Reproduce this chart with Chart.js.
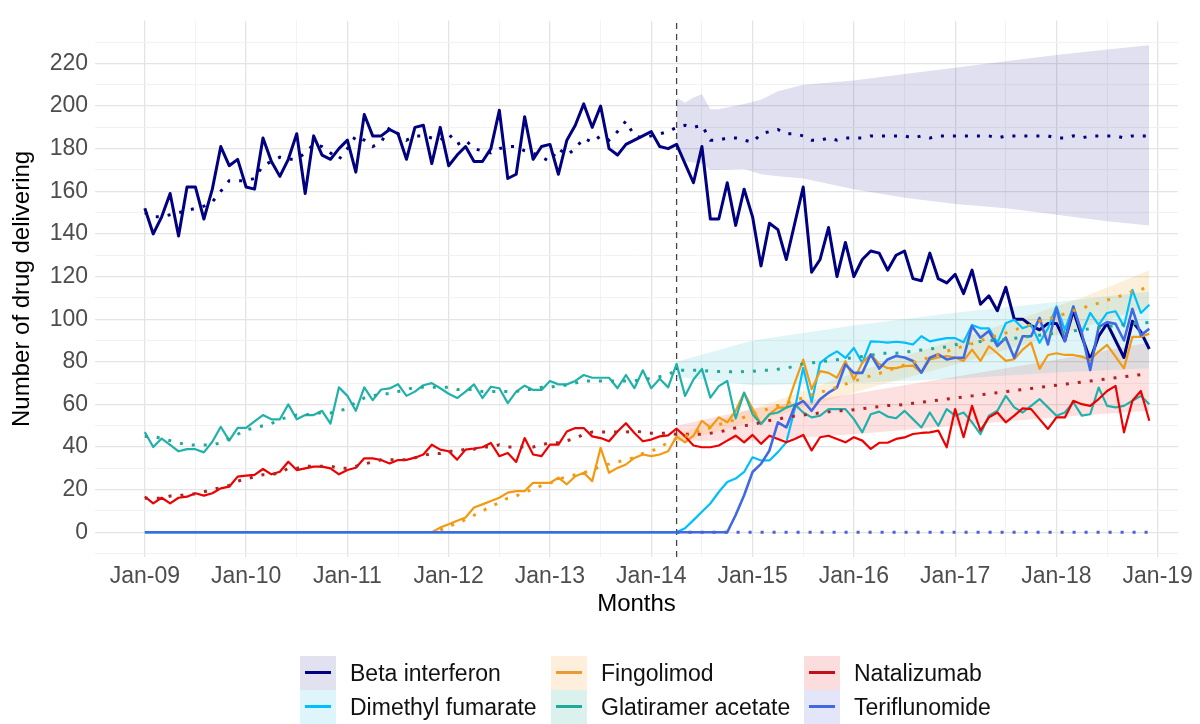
<!DOCTYPE html>
<html>
<head>
<meta charset="utf-8">
<script src="https://cdn.jsdelivr.net/npm/chart.js@4.4.1/dist/chart.umd.min.js"></script>
<style>
  body { margin: 0; background: #fff; font-family: "Liberation Sans", Arial, sans-serif; }
  #wrap { position: relative; width: 1200px; height: 724px; }
  #legend { position: absolute; left: 0; top: 0; width: 1200px; height: 724px; pointer-events: none; }
  .item { position: absolute; height: 34px; display: flex; align-items: center; font-size: 23px; color: #111; white-space: nowrap; }
  .key { position: relative; width: 36px; height: 34px; margin-right: 14px; }
  .key span { position: absolute; left: 5px; right: 5px; top: 15px; height: 3px; }
</style>
</head>
<body>
<div id="wrap">
  <canvas id="chart" width="1200" height="724"></canvas>
  <div id="legend"></div>
</div>
<script>
// month index 0 = Jan-09 ... 119 = Dec-18
const xTickLabels = ['Jan-09', 'Jan-10', 'Jan-11', 'Jan-12', 'Jan-13', 'Jan-14',
  'Jan-15', 'Jan-16', 'Jan-17', 'Jan-18', 'Jan-19'];
const xGridMonths = [0, 6, 12, 18, 24, 30, 36, 42, 48, 54, 60, 66, 72, 78, 84, 90, 96, 102, 108, 114, 120];
const yGridValues = [-10, 0, 10, 20, 30, 40, 50, 60, 70, 80, 90, 100, 110, 120, 130, 140, 150, 160, 170, 180, 190, 200, 210, 220, 230];
const yTickLabels = ['0', '20', '40', '60', '80', '100', '120', '140', '160', '180', '200', '220'];
const interventionMonth = 63;

const betaActual = [
  152, 140, 148, 159, 139, 162, 162, 147, 161, 181, 172, 175,
  162, 161, 185, 174, 167, 175, 187, 159, 186, 177, 175, 180,
  184, 169, 196, 186, 186, 189, 187, 175, 190, 191, 173, 190,
  172, 177, 181, 174, 174, 180, 198, 166, 168, 195, 175, 181,
  182, 168, 184, 191, 201, 190, 200, 180, 177, 182, 184, 186,
  188, 181, 180, 182, 173, 164, 181, 147, 147, 164, 144, 161,
  148, 125, 145, 142, 128, 145, 162, 122, 128, 143, 120, 136,
  120, 128, 132, 131, 123, 130, 132, 119, 118, 131, 119, 117,
  121, 112, 123, 107, 111, 104, 115, 100, 100, 97, 95, 98,
  98, 90, 104, 92, 81, 92, 98, 90, 82, 99, 94, 86];
const betaFit = [
  150, 148, 148, 149, 150, 151, 152, 153, 155, 160, 165, 165,
  165, 166, 172, 174, 176, 175, 175, 178, 182, 181, 178, 175,
  180, 186, 184, 181, 183, 190, 187, 184, 186, 186, 185, 184,
  187, 182, 184, 180, 179, 178, 180, 181, 181, 179, 178, 176,
  174, 180, 177, 180, 185, 183, 186, 184, 188, 193, 186, 185,
  186, 187, 188, 190, 191, 190, 191, 184, 184, 185, 185, 184,
  183, 187, 188, 189, 187, 187, 186, 184, 184, 185, 184, 185,
  185, 185, 186, 186, 186, 186, 186, 185, 186, 185, 186, 186,
  186, 186, 186, 186, 186, 185, 186, 186, 186, 186, 186, 186,
  185, 185, 186, 185, 186, 186, 186, 186, 185, 186, 186, 186];

const dmfActual = [
  0, 0, 0, 0, 0, 0, 0, 0, 0, 0, 0, 0,
  0, 0, 0, 0, 0, 0, 0, 0, 0, 0, 0, 0,
  0, 0, 0, 0, 0, 0, 0, 0, 0, 0, 0, 0,
  0, 0, 0, 0, 0, 0, 0, 0, 0, 0, 0, 0,
  0, 0, 0, 0, 0, 0, 0, 0, 0, 0, 0, 0,
  0, 0, 0, 0, 1.9, 5.7, 9.6, 13.5, 18.9, 23.6, 25.2, 28.3,
  35.2, 33.7, 33.7, 37.6, 42.2, 57.8, 77.2, 60.9, 79.5, 82.6, 84.9, 81.8,
  86.5, 79.5, 89.6, 89.4, 89, 89.4, 89, 88.1, 92, 89.6, 90.4, 91.1,
  91.1, 89.2, 97.3, 95.7, 95.7, 88.9, 98.1, 99.7, 95.7, 97.3, 88.9, 95.7,
  106, 95, 106, 93.6, 102.9, 97.3, 102.9, 103.7, 96.6, 113.8, 102.9, 106.8];

const fingActual = [
  null, null, null, null, null, null, null, null, null, null, null, null,
  null, null, null, null, null, null, null, null, null, null, null, null,
  null, null, null, null, null, null, null, null, null, null, 0, 2.2,
  3.8, 5.4, 6.9, 11.6, 13.1, 14.7, 16.2, 18.6, 19.3, 19.3, 23.2, 23.2,
  23.2, 25.6, 22.5, 26.3, 27.9, 24, 39.6, 27.9, 30.2, 31.8, 34.9, 36.5,
  35.7, 36.5, 38, 45, 42.2, 45.3, 52.3, 49.2, 53.9, 51.6, 57, 65.5,
  57.8, 50.8, 55.4, 58.5, 58.5, 70.2, 81, 67.1, 75.6, 74.8, 72.5, 80.3,
  71.7, 79.5, 83.4, 79, 77, 77, 78, 78.2, 74.9, 81.1, 82, 82.7,
  82, 80.4, 85.7, 80.4, 87.3, 84, 80.4, 81.2, 85.7, 89, 76.7, 83.2,
  84, 83.2, 83.2, 82.4, 80.9, 84.8, 87.9, 82.4, 76.9, 91.7, 91.7, 93.2];
const fingFit = [
  null, null, null, null, null, null, null, null, null, null, null, null,
  null, null, null, null, null, null, null, null, null, null, null, null,
  null, null, null, null, null, null, null, null, null, null, null, 1,
  3, 4, 6, 8, 10, 12, 14, 16, 17, 19, 20, 22,
  23, 25, 26, 27, 28, 29, 31, 32, 33, 34, 35, 37,
  38, 40, 42, 44, 45, 46.5, 48, 49, 50.5, 51.5, 53, 54,
  55.5, 57, 58, 59.5, 60.5, 62, 63, 64.5, 65.5, 67, 68, 69.5,
  71, 72, 73.5, 74.5, 76, 77, 78.5, 79.5, 81, 82, 83.5, 85,
  86, 87.5, 88.5, 90, 91, 92.5, 93.5, 95, 96, 97.5, 99, 100,
  101.5, 102.5, 104, 105, 106.5, 107.5, 109, 110, 111.5, 113, 114, 115];

const glatActual = [
  47, 40, 44, 41, 38, 39, 39, 37.5, 42.5, 49.5, 43, 49,
  49, 52, 55, 53, 53, 60, 53, 55, 55, 57, 51, 68,
  64, 57, 68, 62, 67, 67.5, 69.5, 64, 66, 69, 70, 67.6,
  65, 63, 66, 69.4, 63, 68.3, 67.6, 60.6, 66, 68.8, 66.8, 66.8,
  71, 69.4, 69.4, 71, 73.8, 72.5, 72.5, 72.5, 67.6, 73.8, 67.6, 76,
  67.6, 72, 68, 79, 64, 71.7, 76.7, 63.2, 68.6, 71, 53.4, 65.5,
  55.4, 50.8, 55.4, 56.2, 58.5, 60, 56.2, 53.9, 54.7, 57.8, 57.8, 57.8,
  53.1, 46.9, 55.4, 56.6, 54.3, 53.5, 57, 53.1, 49.2, 56.2, 50, 57.8,
  54.7, 56.2, 51.6, 46.1, 54.7, 57, 64, 58.6, 56.2, 59.3, 62.5, 58.6,
  54.7, 56.2, 61, 54.7, 55.4, 67.9, 59.3, 58.6, 59.3, 61.7, 64, 60.1];
const glatFit = [
  45, 45, 44, 43, 42, 41, 41, 41, 41, 42, 44, 46,
  48, 49, 50, 51, 53, 54, 55, 55, 56, 56, 56, 57,
  58, 61, 63, 64, 65, 65, 66, 67, 68, 68, 68, 68,
  68, 67, 67, 67, 66, 66, 66, 66, 66, 67, 67, 68,
  68, 69, 69, 70, 71, 71, 71, 71, 71, 71, 71, 72,
  72, 73, 74, 76, 76, 76, 76, 75.5, 75.5, 75.5, 75, 75.5,
  75.5, 76, 76, 76.5, 77, 78, 79, 79.5, 80, 80.5, 81, 81.5,
  82, 82.5, 83, 84, 84, 84, 84.5, 85, 85.5, 86, 86.5, 87,
  88, 88.5, 89, 89.5, 90, 90, 90.5, 91, 91.5, 92, 92.5, 93,
  93.5, 94, 94.5, 95, 95.5, 96, 96.5, 97, 97.5, 98, 98, 98.5];

const nataActual = [
  16.7, 13.6, 16.2, 13.6, 16.2, 16.7, 18.3, 17.2, 18.3, 20.6, 21.4, 26.1,
  26.6, 26.9, 29.7, 27.2, 28.4, 33.1, 29.2, 30, 30.8, 30.8, 30, 27.2,
  29.2, 30.3, 34.7, 34.7, 33.9, 32.3, 33.9, 34, 35, 36.5, 41.1, 38.8,
  38, 34.1, 38.8, 39.3, 39.9, 41.9, 35.7, 37.2, 33, 44.2, 36.5, 35.7,
  41.1, 41.1, 47.3, 48.9, 48.9, 45, 44.2, 42.7, 47.3, 51.2, 46.6, 42.7,
  43.5, 45, 45.5, 48.6, 45, 40.7, 39.9, 39.9, 40.7, 43, 45.3, 42.2,
  45.7, 41.5, 45.3, 43.8, 42.2, 43.8, 45.7, 38.4, 44.6, 45.3, 43.8, 42.2,
  44.6, 43, 39.1, 42, 42, 43.8, 44.5, 46.1, 46.6, 46.9, 47.7, 39.9,
  57.8, 44.6, 59.3, 47.7, 53.9, 56.2, 51.6, 54.7, 58.1, 57.8, 53.1, 48.5,
  53.9, 53.9, 61.7, 60.1, 59.3, 62.5, 66.3, 68.7, 46.9, 61.7, 66.3, 52.3];
const nataFit = [
  16, 16, 16, 17, 17, 18, 18, 19, 20, 21, 22, 24,
  25, 26, 27, 27, 28, 30, 30, 31, 31, 31, 31, 30,
  30, 31, 32, 33, 34, 34, 34, 34, 35, 36, 37, 37,
  38, 38, 39, 39, 40, 40, 41, 40, 40, 40, 40, 41,
  42, 42, 43, 44, 46, 47, 47, 47, 47, 47, 47.5, 47,
  46.5, 46.5, 46.5, 46, 46, 46, 46, 46.5, 47, 48, 49, 50,
  50.5, 51.5, 52.5, 53, 54, 54.5, 55, 55.5, 56, 56.5, 57, 57,
  57.5, 58, 58.5, 59, 59.5, 59.5, 60, 60.5, 61, 61.5, 62, 62.5,
  63, 63.5, 64, 64.5, 65, 65.5, 66, 66.5, 67, 67.5, 68, 68.5,
  69, 69.5, 70, 70.5, 71, 71.5, 72, 72.5, 73, 73.5, 74, 74];

const teriActual = [
  0, 0, 0, 0, 0, 0, 0, 0, 0, 0, 0, 0,
  0, 0, 0, 0, 0, 0, 0, 0, 0, 0, 0, 0,
  0, 0, 0, 0, 0, 0, 0, 0, 0, 0, 0, 0,
  0, 0, 0, 0, 0, 0, 0, 0, 0, 0, 0, 0,
  0, 0, 0, 0, 0, 0, 0, 0, 0, 0, 0, 0,
  0, 0, 0, 0, 0, 0, 0, 0, 0, 0, 8.1, 17.4,
  28.3, 32.1, 38.4, 51.6, 49.2, 59.3, 61.6, 57, 62.4, 65.5, 67.9, 78.7,
  74.8, 74.8, 83.4, 76.8, 81.1, 82.7, 82, 80.4, 74.9, 81.9, 83.5, 81.1,
  81.9, 81.9, 96.7, 91.3, 94.4, 87.4, 91.3, 81.9, 92, 92, 100.6, 88.1,
  105.2, 89.6, 105.9, 93.6, 76.1, 96.3, 98.6, 97.8, 90, 104.8, 92.4, 95.5];
const teriFit = [
  null, null, null, null, null, null, null, null, null, null, null, null,
  null, null, null, null, null, null, null, null, null, null, null, null,
  null, null, null, null, null, null, null, null, null, null, null, null,
  null, null, null, null, null, null, null, null, null, null, null, null,
  null, null, null, null, null, null, null, null, null, null, null, null,
  null, null, null, 0, 0, 0, 0, 0, 0, 0, 0, 0,
  0, 0, 0, 0, 0, 0, 0, 0, 0, 0, 0, 0,
  0, 0, 0, 0, 0, 0, 0, 0, 0, 0, 0, 0,
  0, 0, 0, 0, 0, 0, 0, 0, 0, 0, 0, 0,
  0, 0, 0, 0, 0, 0, 0, 0, 0, 0, 0, 0];

// forecast intervals
const betaBandMonths = [63, 64, 65, 66, 67, 68, 71, 73, 75, 78, 84, 90, 96, 102, 108, 114, 119];
const betaBandLow = [180, 174, 173.5, 173, 170, 170, 170.5, 168, 167, 166, 161, 157, 154, 152, 149, 146, 144];
const betaBandHigh = [204, 201.5, 204, 205.5, 198.5, 198.5, 201, 203, 207, 210, 212, 215, 218, 221, 224, 226.5, 228.5];
const glatBandMonths = [63, 72, 84, 96, 108, 119];
const glatBandLow = [73, 69, 70, 72, 75, 77];
const glatBandHigh = [80, 90, 97, 103, 108, 113];
const fingBandMonths = [63, 75, 87, 99, 111, 119];
const fingBandLow = [42, 55, 69, 82, 96, 106];
const fingBandHigh = [46, 62, 79, 94, 110, 123];
const nataBandMonths = [63, 72, 84, 96, 108, 119];
const nataBandLow = [43, 43, 46, 50, 54, 57];
const nataBandHigh = [50, 58, 65, 73, 81, 89];

const drugNames = ['Beta interferon', 'Dimethyl fumarate', 'Fingolimod', 'Glatiramer acetate', 'Natalizumab', 'Teriflunomide'];
const lineColors = ['#000080', '#00BFFF', '#F39A12', '#20B2AA', '#EE0000', '#4169E1'];
const keyLineColors = ['#000080', '#00BFFF', '#E99A35', '#20A898', '#C0101A', '#4169E1'];
const keyFills = ['#E1E1EF', '#DDF5FB', '#FDEFDB', '#DBF1EE', '#FBDDDD', '#E3E6F8'];

const pts = (arr) => arr.map((v, i) => ({ x: i, y: v }));
const bandPts = (months, vals) => months.map((m, i) => ({ x: m, y: vals[i] }));

function solid(label, values, color, width, order) {
  return { label, data: pts(values), borderColor: color, borderWidth: width, pointRadius: 0,
    fill: false, order, borderJoinStyle: 'round' };
}
function dotted(label, values, color, order) {
  return { label, data: pts(values), borderColor: color, borderWidth: 3, borderDash: [3, 9],
    borderCapStyle: 'butt', pointRadius: 0, fill: false, order };
}
function band(months, low, high, color) {
  return [
    { label: 'lo', data: bandPts(months, low), borderWidth: 0, pointRadius: 0, fill: false, order: 20 },
    { label: 'hi', data: bandPts(months, high), borderWidth: 0, pointRadius: 0, fill: '-1',
      backgroundColor: color, order: 20 }
  ];
}

const datasets = [
  ...band(betaBandMonths, betaBandLow, betaBandHigh, 'rgba(0,0,128,0.12)'),
  ...band(glatBandMonths, glatBandLow, glatBandHigh, 'rgba(40,190,200,0.15)'),
  ...band(fingBandMonths, fingBandLow, fingBandHigh, 'rgba(243,146,0,0.14)'),
  ...band(nataBandMonths, nataBandLow, nataBandHigh, 'rgba(235,0,0,0.12)'),
  { label: 'vline', data: [{ x: interventionMonth, y: -11.6 }, { x: interventionMonth, y: 240 }],
    borderColor: '#444', borderWidth: 1.3, borderDash: [6, 5], pointRadius: 0, order: 15 },
  solid(drugNames[0], betaActual, lineColors[0], 3, 6),
  solid(drugNames[1], dmfActual, lineColors[1], 2.2, 5),
  solid(drugNames[2], fingActual, lineColors[2], 2.2, 4),
  solid(drugNames[3], glatActual, lineColors[3], 2.2, 3),
  solid(drugNames[4], nataActual, lineColors[4], 2.2, 2),
  solid(drugNames[5], teriActual, lineColors[5], 2.6, 1),
  dotted('fit beta', betaFit, '#000080', 0),
  dotted('fit fing', fingFit, '#F39A12', 0),
  dotted('fit glat', glatFit, '#20A898', 0),
  dotted('fit nata', nataFit, '#B22222', 0),
  dotted('fit teri', teriFit, '#4A5FD0', 0)
];

Chart.defaults.font.family = '"Liberation Sans", Arial, sans-serif';

new Chart(document.getElementById('chart'), {
  type: 'line',
  data: { datasets },
  options: {
    responsive: false,
    animation: false,
    devicePixelRatio: 1,
    layout: { padding: { top: 16, right: 22, bottom: 97, left: 0 } },
    plugins: { legend: { display: false }, tooltip: { enabled: false } },
    scales: {
      x: {
        type: 'linear',
        min: -5.9,
        max: 122.4,
        afterBuildTicks: (s) => { s.ticks = xGridMonths.map(v => ({ value: v })); },
        afterFit: (s) => { s.height = 70; },
        ticks: {
          autoSkip: false, maxRotation: 0, padding: 6,
          font: { size: 23 }, color: '#4D4D4D',
          callback: (v) => (v % 12 === 0 ? xTickLabels[v / 12] : '')
        },
        grid: {
          drawTicks: false,
          color: (c) => (c.tick && c.tick.value % 12 === 0 ? '#E4E4E4' : '#F1F1F1'),
          lineWidth: (c) => (c.tick && c.tick.value % 12 === 0 ? 1.3 : 0.9)
        },
        border: { display: false },
        title: { display: true, text: 'Months', font: { size: 24 }, color: '#000', padding: { top: 0, bottom: 8 } }
      },
      y: {
        type: 'linear',
        min: -11.6,
        max: 240,
        afterBuildTicks: (s) => { s.ticks = yGridValues.map(v => ({ value: v })); },
        afterFit: (s) => { s.width = 95; },
        ticks: {
          autoSkip: false, padding: 7,
          font: { size: 23 }, color: '#4D4D4D',
          callback: (v) => (v % 20 === 0 && v >= 0 && v <= 220 ? yTickLabels[v / 20] : '')
        },
        grid: {
          drawTicks: false,
          color: (c) => (c.tick && c.tick.value % 20 === 0 ? '#E4E4E4' : '#F1F1F1'),
          lineWidth: (c) => (c.tick && c.tick.value % 20 === 0 ? 1.3 : 0.9)
        },
        border: { display: false },
        title: { display: true, text: 'Number of drug delivering', font: { size: 24 }, color: '#000', padding: { top: 8, bottom: 0 } }
      }
    }
  }
});

// legend, 3 columns x 2 rows as in the original
const legendCols = [300, 551, 804];
const legendRows = [656, 690];
const legend = document.getElementById('legend');
drugNames.forEach((name, i) => {
  const item = document.createElement('div');
  item.className = 'item';
  item.style.left = legendCols[Math.floor(i / 2)] + 'px';
  item.style.top = legendRows[i % 2] + 'px';
  item.innerHTML = '<div class="key" style="background:' + keyFills[i] + '"><span style="background:' +
    keyLineColors[i] + '"></span></div>' + name;
  legend.appendChild(item);
});
</script>
</body>
</html>
